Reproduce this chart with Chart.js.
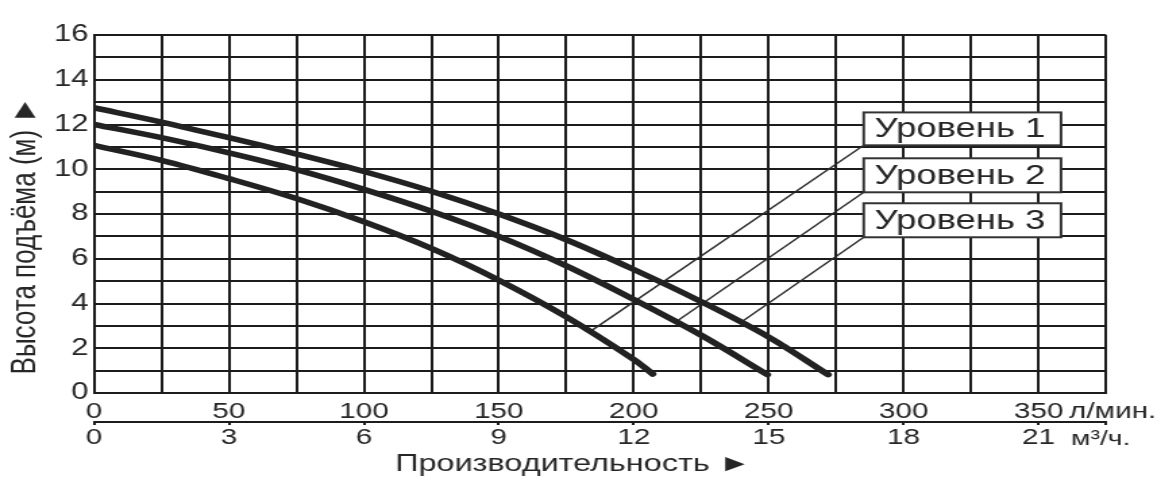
<!DOCTYPE html>
<html><head><meta charset="utf-8">
<script src="https://cdn.jsdelivr.net/npm/chart.js@4"></script>
<style>html,body{margin:0;padding:0;background:#fff}canvas{display:block}</style>
</head><body>
<canvas id="c" width="857" height="483" style="width:1157px;height:483px"></canvas>
<script>
// ---- data (flow in l/min, head in m) ----
const seriesNames = ['Уровень 1', 'Уровень 2', 'Уровень 3'];
const flowLevel1 = [0, 25, 50, 75, 100, 125, 150, 175, 200, 207];
const headLevel1 = [11.07, 10.4, 9.58, 8.69, 7.65, 6.46, 5.04, 3.4, 1.5, 0.85];
const flowLevel2 = [0, 25, 50, 75, 100, 125, 150, 175, 200, 225, 249.5];
const headLevel2 = [12.0, 11.41, 10.73, 9.98, 9.1, 8.12, 7.0, 5.68, 4.18, 2.58, 0.82];
const flowLevel3 = [0, 25, 50, 75, 100, 125, 150, 175, 200, 225, 250, 272];
const headLevel3 = [12.75, 12.11, 11.41, 10.68, 9.9, 9.02, 8.0, 6.85, 5.52, 4.08, 2.5, 0.82];
const unitLpm = 'л/мин.';
const unitM3h = 'м³/ч.';
const yTitle = 'Высота подъёма (м) ►';
const xTitle = 'Производительность ►';

// ---- annotation layout (data coordinates) ----
const leaderFrom = [{x: 285.2, y: 11.07}, {x: 285.2, y: 8.97}, {x: 285.2, y: 6.96}];
const leaderTo = [{x: 184.6, y: 2.81}, {x: 216.6, y: 3.26}, {x: 240, y: 3.18}];
const boxes = [
  {q0: 285.2, q1: 358.3, v0: 11.07, v1: 12.54},
  {q0: 285.2, q1: 358.3, v0: 8.97, v1: 10.49},
  {q0: 285.2, q1: 358.3, v0: 6.96, v1: 8.48}
];

const FONT = "'Liberation Sans', Arial, sans-serif";
const INK = '#1c1c1c';
const TXT = '#262626';
const pts = (xs, ys) => xs.map((v, i) => ({x: v, y: ys[i]}));

const curve = (xs, ys, name) => ({
  label: name, data: pts(xs, ys), borderColor: '#222', borderWidth: 5.5,
  pointRadius: 0, fill: false, tension: 0.35,
  borderCapStyle: 'round', borderJoinStyle: 'round'
});
const leader = i => ({
  label: 'leader' + (i + 1), data: [leaderFrom[i], leaderTo[i]], borderColor: '#2a2a2a',
  borderWidth: 1.4, pointRadius: 0, fill: false, tension: 0
});

const annot = {
  id: 'annot',
  afterDatasetsDraw(chart) {
    const {ctx, scales: {x, x2, y}} = chart;
    ctx.save();
    boxes.forEach((b, i) => {
      const l = x.getPixelForValue(b.q0), r = x.getPixelForValue(b.q1);
      const t = y.getPixelForValue(b.v1), bt = y.getPixelForValue(b.v0);
      ctx.fillStyle = '#fff';
      ctx.fillRect(l, t, r - l, bt - t);
      ctx.strokeStyle = '#333';
      ctx.lineWidth = 2;
      ctx.strokeRect(l, t, r - l, bt - t);
      ctx.fillStyle = TXT;
      ctx.font = '27px ' + FONT;
      ctx.textAlign = 'left';
      ctx.textBaseline = 'middle';
      ctx.fillText(seriesNames[i], l + 8, (t + bt) / 2 + 1);
    });
    ctx.fillStyle = TXT;
    ctx.font = '22px ' + FONT;
    ctx.textAlign = 'left';
    ctx.textBaseline = 'alphabetic';
    ctx.fillText(unitLpm, x.getPixelForValue(350) + 22.5, x.top + 25);
    ctx.font = '21px ' + FONT;
    ctx.fillText(unitM3h, x2.getPixelForValue(21) + 24, x2.top + 23);
    ctx.restore();
  }
};

new Chart(document.getElementById('c'), {
  type: 'line',
  data: {
    datasets: [
      curve(flowLevel1, headLevel1, seriesNames[0]),
      curve(flowLevel2, headLevel2, seriesNames[1]),
      curve(flowLevel3, headLevel3, seriesNames[2]),
      leader(0), leader(1), leader(2)
    ]
  },
  options: {
    responsive: false,
    devicePixelRatio: 1,
    animation: false,
    layout: {padding: {top: 35, right: 37.7, bottom: 7, left: 0}},
    plugins: {legend: {display: false}, tooltip: {enabled: false}},
    scales: {
      x: {
        type: 'linear', position: 'bottom', min: 0, max: 375,
        afterFit: s => { s.height = 29; },
        grid: {color: INK, lineWidth: 2, drawTicks: false},
        border: {color: INK, width: 2},
        ticks: {
          stepSize: 25, autoSkip: false, maxRotation: 0, padding: 7.5,
          color: TXT, font: {family: FONT, size: 22, lineHeight: 1},
          callback: v => (v % 50 === 0 && v <= 350) ? String(v) : ''
        }
      },
      x2: {
        type: 'linear', position: 'bottom', axis: 'x', min: 0, max: 22.5,
        afterFit: s => { s.height = 54; },
        grid: {
          drawOnChartArea: false, drawTicks: true, tickLength: 3, lineWidth: 2,
          tickColor: c => (c.tick && (c.tick.value % 3 === 0 || c.tick.value === 22.5)) ? INK : 'rgba(0,0,0,0)'
        },
        border: {color: INK, width: 2},
        ticks: {
          stepSize: 1.5, autoSkip: false, maxRotation: 0, padding: 2,
          color: TXT, font: {family: FONT, size: 22, lineHeight: 1},
          callback: v => (v % 3 === 0 && v <= 21) ? String(v) : ''
        },
        title: {
          display: true, text: xTitle + '\u00A0'.repeat(6), color: TXT,
          font: {family: FONT, size: 24, lineHeight: 1}, padding: {top: 0, bottom: 0}
        }
      },
      y: {
        type: 'linear', min: 0, max: 16,
        afterFit: s => { s.width = 69.6; },
        grid: {color: INK, lineWidth: 2, drawTicks: false},
        border: {color: INK, width: 2},
        ticks: {
          stepSize: 1, autoSkip: false, padding: 4,
          color: TXT, font: {family: FONT, size: 23, lineHeight: 1},
          callback: v => (v % 2 === 0) ? String(v) : ''
        },
        title: {
          display: true, text: yTitle + '\u00A0'.repeat(6), color: TXT,
          font: {family: FONT, size: 26, lineHeight: 1.2}, padding: {top: 3.5, bottom: 0}
        }
      }
    }
  },
  plugins: [annot]
});
</script>
</body></html>
